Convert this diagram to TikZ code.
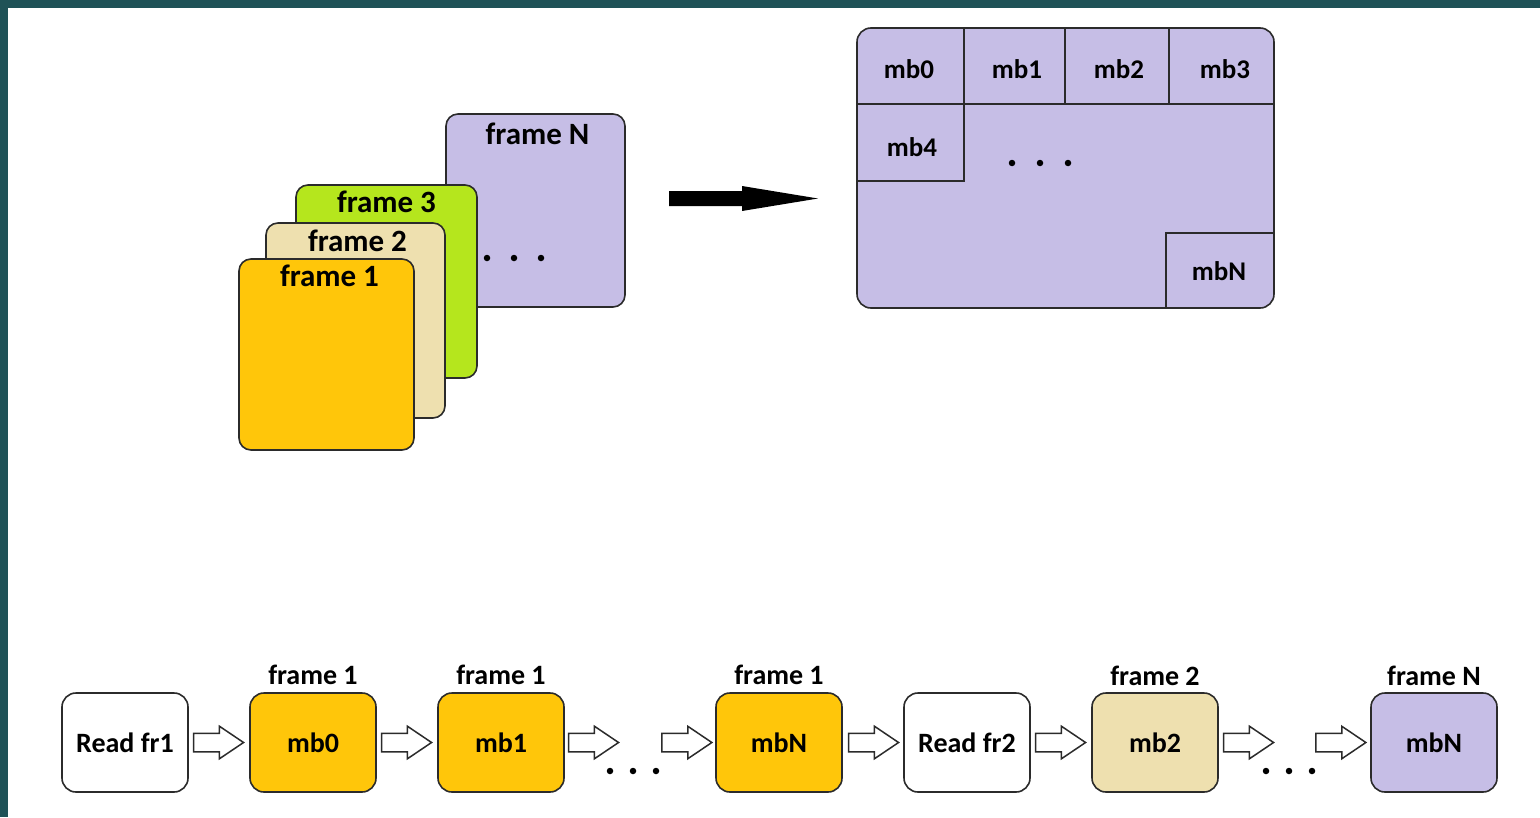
\documentclass[tikz,border=0pt]{standalone}
\usepackage{fontspec}
\setmainfont{Carlito}
\usetikzlibrary{positioning,shapes.arrows}
\definecolor{linec}{HTML}{2B2B2B}
\definecolor{fyel}{HTML}{FFC60A}
\definecolor{fbei}{HTML}{EEE0AF}
\definecolor{fgrn}{HTML}{B5E61D}
\definecolor{flav}{HTML}{C6BEE6}
\definecolor{slideA}{HTML}{1F5257}
\definecolor{slideB}{HTML}{2E6A67}
\tikzset{
  frm/.style={draw=linec,line width=1.6pt,rounded corners=12pt,inner sep=0pt},
  ttl/.style={font=\fontsize{31}{31}\selectfont\bfseries,inner sep=0pt},
  txt/.style={font=\fontsize{27}{27}\selectfont\bfseries,inner sep=0pt},
  lbl/.style={font=\fontsize{28}{28}\selectfont\bfseries,inner sep=0pt},
  blk/.style={draw=linec,line width=1.6pt,rounded corners=14pt,minimum width=126pt,
    minimum height=99pt,inner sep=0pt,font=\fontsize{28}{28}\selectfont\bfseries},
  hollow/.style={single arrow,draw=linec,fill=white,line width=1.5pt,minimum height=50pt,
    inner xsep=0pt,inner ysep=8.5pt,single arrow head extend=7pt,single arrow tip angle=68},
  dot/.style={fill=black,circle,inner sep=0pt,minimum size=6.5pt},
  cell/.style={draw=linec,line width=1.6pt}
}
\begin{document}
\begin{tikzpicture}[x=1pt,y=-1pt]
  \useasboundingbox (0,0) rectangle (1540,817);
  \fill[white] (0,0) rectangle (1540,817);
  % slide edge
  \fill[slideA] (0,0) rectangle (8,817);
  \shade[left color=slideA,middle color=slideB,right color=slideA] (0,0) rectangle (1540,7);

  % stack of frames
  \node[frm,fill=flav,minimum width=179pt,minimum height=193pt] (fN) at (535.5,210.5) {};
  \node[frm,fill=fgrn,minimum width=181pt,minimum height=193pt] (f3) at (386.5,281.5) {};
  \node[frm,fill=fbei,minimum width=179pt,minimum height=195pt] (f2) at (355.5,320.5) {};
  \node[frm,fill=fyel,minimum width=175pt,minimum height=191pt] (f1) at (326.5,354.5) {};
  \node[ttl] at ([xshift=2pt,yshift=-21pt]fN.north) {frame N};
  \node[ttl] at ([yshift=-18pt]f3.north) {frame 3};
  \node[ttl] at ([xshift=2pt,yshift=-19pt]f2.north) {frame 2};
  \node[ttl] at ([xshift=3pt,yshift=-18pt]f1.north) {frame 1};
  \foreach \x in {487,514,541} \node[dot] at (\x,258) {};

  % big arrow
  \coordinate (bgS) at (669,198.5);
  \coordinate (bgE) at (818,198.5);
  \fill (bgS) ++(0,-7.5) -- ++(73,0) -- ++(0,-5) -- (bgE) -- ++(-76,12.5)
    -- ++(0,-5) -- ++(-73,0) -- cycle;

  % macroblocks of one frame
  \node[frm,rounded corners=14pt,fill=flav,minimum width=417pt,minimum height=280pt] (grd) at (1065.5,168) {};
  \draw[cell] (964,28) -- (964,181) -- (857,181);
  \draw[cell] (857,104) -- (1274,104);
  \draw[cell] (1065,28) -- (1065,104);
  \draw[cell] (1169,28) -- (1169,104);
  \draw[cell] (1166,308) -- (1166,233) -- (1274,233);
  \node[txt] at (909,69) {mb0};
  \node[txt] at (1017,69) {mb1};
  \node[txt] at (1119,69) {mb2};
  \node[txt] at (1225,69) {mb3};
  \node[txt] at (912,147) {mb4};
  \node[txt] at (1219,271) {mbN};
  \foreach \x in {1012,1040,1068} \node[dot] at (\x,163) {};

  % processing order
  \node[blk,fill=white] (rd1) at (125,742.5) {Read fr1};
  \node[blk,fill=fyel,right=60.4pt of rd1] (m0) {mb0};
  \node[blk,fill=fyel,right=60.4pt of m0] (m1) {mb1};
  \node[blk,fill=fyel,right=150.4pt of m1] (mNa) {mbN};
  \node[blk,fill=white,right=60.4pt of mNa] (rd2) {Read fr2};
  \node[blk,fill=fbei,right=60.4pt of rd2] (m2) {mb2};
  \node[blk,fill=flav,right=151.4pt of m2] (mNb) {mbN};
  \node[lbl] at ([yshift=17pt]m0.north) {frame 1};
  \node[lbl] at ([yshift=17pt]m1.north) {frame 1};
  \node[lbl] at ([yshift=17pt]mNa.north) {frame 1};
  \node[lbl] at ([yshift=16pt]m2.north) {frame 2};
  \node[lbl] at ([yshift=16pt]mNb.north) {frame N};

  \node[hollow,right=4pt of rd1] (h1) {};
  \node[hollow,right=4pt of m0] (h2) {};
  \node[hollow,right=3pt of m1] (h3) {};
  \node[hollow,left=2pt of mNa] (h4) {};
  \node[hollow,right=5pt of mNa] (h5) {};
  \node[hollow,right=4pt of rd2] (h6) {};
  \node[hollow,right=4pt of m2] (h7) {};
  \node[hollow,left=3pt of mNb] (h8) {};
  \foreach \x in {610,633,656,1266,1289,1312} \node[dot] at (\x,771) {};
\end{tikzpicture}
\end{document}
